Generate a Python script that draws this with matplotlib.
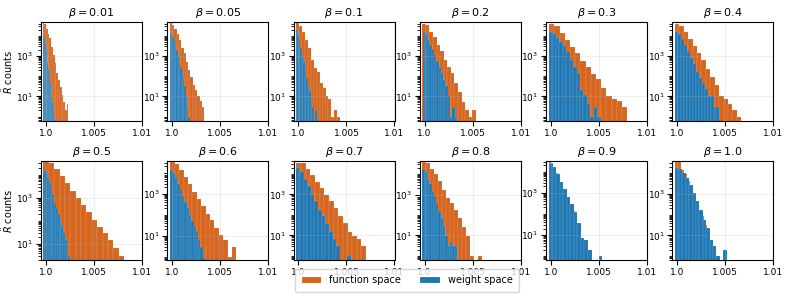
# R-hat histograms, function space vs weight space, for each beta
import matplotlib
matplotlib.use('Agg')

import matplotlib.pyplot as plt
import numpy as np
from matplotlib.ticker import LogLocator, NullFormatter

plt.rcParams['font.family'] = 'DejaVu Sans'
plt.rcParams['font.size'] = 7
plt.rcParams['mathtext.fontset'] = 'dejavusans'

betas = [0.01, 0.05, 0.1, 0.2, 0.3, 0.4, 0.5, 0.6, 0.7, 0.8, 0.9, 1.0]

# y range of each panel (counts)
ylim_lo = [0.59, 0.59, 0.59, 0.59, 0.59, 0.59, 2.0, 0.68, 0.63, 0.63, 0.63, 0.66]
ylim_hi = [4.9e4, 4.9e4, 4.9e4, 4.9e4, 4.9e4, 4.9e4, 3.9e4, 3.6e4, 4.3e4, 4.4e4, 3.3e4, 3.8e4]

# function space: bin range and 15 bin counts per beta
func_lo = [0.99966, 0.99976, 0.99972, 0.99975, 0.99983, 0.99979,
           0.99975, 0.99983, 0.99979, 0.99976, 0.99983, 0.99983]
func_hi = [1.00235, 1.00334, 1.00438, 1.00535, 1.00794, 1.00667,
           1.00813, 1.00668, 1.00705, 1.00597, 1.00314, 1.00430]
func_counts = [
    [44000, 37000, 23000, 13000, 7400, 2900, 1100, 440, 140, 66, 29, 12, 5, 2, 4],
    [41000, 33000, 23000, 13000, 6200, 2400, 1350, 525, 205, 96, 37, 21, 10, 6, 3],
    [41000, 30000, 16000, 6200, 2400, 640, 246, 170, 45, 26, 10, 7, 1, 2, 1],
    [40000, 35000, 16000, 9000, 3700, 1700, 630, 270, 140, 45, 16, 5, 2, 1, 2],
    [38000, 29000, 14000, 6300, 2750, 1400, 570, 270, 123, 70, 26, 11, 7, 6, 3],
    [38000, 32000, 15000, 7100, 3100, 1400, 620, 240, 95, 37, 11, 7, 4, 2, 1],
    [38000, 32000, 17000, 8300, 4100, 1950, 1000, 460, 235, 112, 52, 29, 15, 7, 3],
    [31000, 26000, 13000, 6300, 2700, 1200, 540, 250, 110, 56, 22, 11, 6, 1, 3],
    [35000, 32000, 18000, 9300, 4100, 1950, 940, 480, 210, 93, 40, 14, 9, 7, 3],
    [39000, 33000, 18000, 9500, 4500, 1600, 690, 390, 183, 71, 26, 9, 1, 0, 1],
    [31000, 26000, 14000, 9100, 5200, 3250, 1450, 1000, 480, 330, 190, 132, 63, 30, 16],
    [35000, 32000, 14000, 8700, 4100, 1600, 930, 450, 175, 83, 33, 13, 5, 3, 1],
]

# weight space
weight_lo = [0.99966, 0.99976, 0.99972, 0.99979, 0.99983, 0.99979,
             0.99975, 0.99983, 0.99979, 0.99976, 0.99983, 0.99983]
weight_hi = [1.00092, 1.00183, 1.00207, 1.00336, 1.00517, 1.00441,
             1.00254, 1.00343, 1.00545, 1.00338, 1.00534, 1.00517]
weight_counts = [
    [20000, 13000, 7400, 4200, 2000, 940, 440, 205, 96, 45, 21, 10, 5, 2, 1],
    [16000, 13000, 8900, 6200, 3500, 2000, 1120, 640, 300, 170, 80, 31, 12, 3, 1],
    [19000, 10700, 6200, 2900, 1120, 525, 205, 80, 37, 18, 6, 3, 1, 2, 1],
    [15000, 12000, 6500, 3550, 2100, 1070, 550, 290, 138, 65, 31, 12, 1, 3, 1],
    [16000, 12000, 7800, 4800, 3100, 1570, 660, 290, 138, 21, 12, 4, 1, 3, 1],
    [16000, 12000, 7100, 3550, 1700, 800, 380, 165, 78, 45, 24, 11, 10, 3, 3],
    [16000, 14000, 8100, 4500, 2700, 1400, 600, 360, 200, 112, 57, 29, 15, 6, 3],
    [13000, 10000, 5300, 3000, 1600, 780, 400, 205, 98, 52, 30, 17, 6, 3, 1],
    [19500, 12500, 5500, 2500, 1000, 480, 175, 93, 35, 14, 7, 3, 0, 0, 1],
    [18000, 12000, 5900, 3100, 1450, 890, 390, 150, 71, 30, 9, 3, 5, 3, 3],
    [23000, 16000, 7600, 3250, 1450, 650, 280, 118, 36, 7, 6, 2, 0, 0, 1],
    [18000, 15000, 9600, 5900, 2500, 1040, 450, 163, 57, 23, 6, 3, 1, 0, 2],
]

xticks = [1.0, 1.005, 1.01]
xticklabels = ['1.0', '1.005', '1.01']

c_func = '#d6651d'
c_weight = '#1f77b4'

fig, axes = plt.subplots(2, 6, figsize=(7.89, 3.0), dpi=100)
fig.subplots_adjust(left=0.052, right=0.98, top=0.927, bottom=0.133,
                    wspace=0.25, hspace=0.4)

for i, ax in enumerate(axes.flat):
    ax.set_yscale('log')
    series = [
        (func_lo[i], func_hi[i], func_counts[i], c_func, 'function space'),
        (weight_lo[i], weight_hi[i], weight_counts[i], c_weight, 'weight space'),
    ]
    for lo, hi, cnt, col, lab in series:
        edges = np.linspace(lo, hi, len(cnt) + 1)
        ax.bar(edges[:-1], cnt, width=np.diff(edges), align='edge',
               color=col, edgecolor=(1, 1, 1, 0.3), linewidth=0.3, label=lab)
    ax.set_title(rf'$\beta = {betas[i]}$', fontsize=8, pad=4)
    ax.set_xlim(0.9995, 1.01)
    ax.set_ylim(ylim_lo[i], ylim_hi[i])
    ax.set_xticks(xticks)
    ax.set_xticklabels(xticklabels)
    ax.set_yticks([1e1, 1e3])
    ax.yaxis.set_minor_locator(LogLocator(base=10, subs=np.arange(1, 10), numticks=30))
    ax.yaxis.set_minor_formatter(NullFormatter())
    ax.tick_params(labelsize=6.5, pad=2)
    ax.grid(True, color='#b0b0b0', alpha=0.25, linewidth=0.6)

for r in range(2):
    axes[r, 0].set_ylabel(r'$\hat{R}$ counts', fontsize=7, labelpad=1)

handles, labels = axes[0, 0].get_legend_handles_labels()
fig.legend(handles, labels, loc='lower center', bbox_to_anchor=(0.516, 0.01),
           ncol=2, fontsize=7, borderpad=0.7)

fig.savefig('out.png', dpi=100)
